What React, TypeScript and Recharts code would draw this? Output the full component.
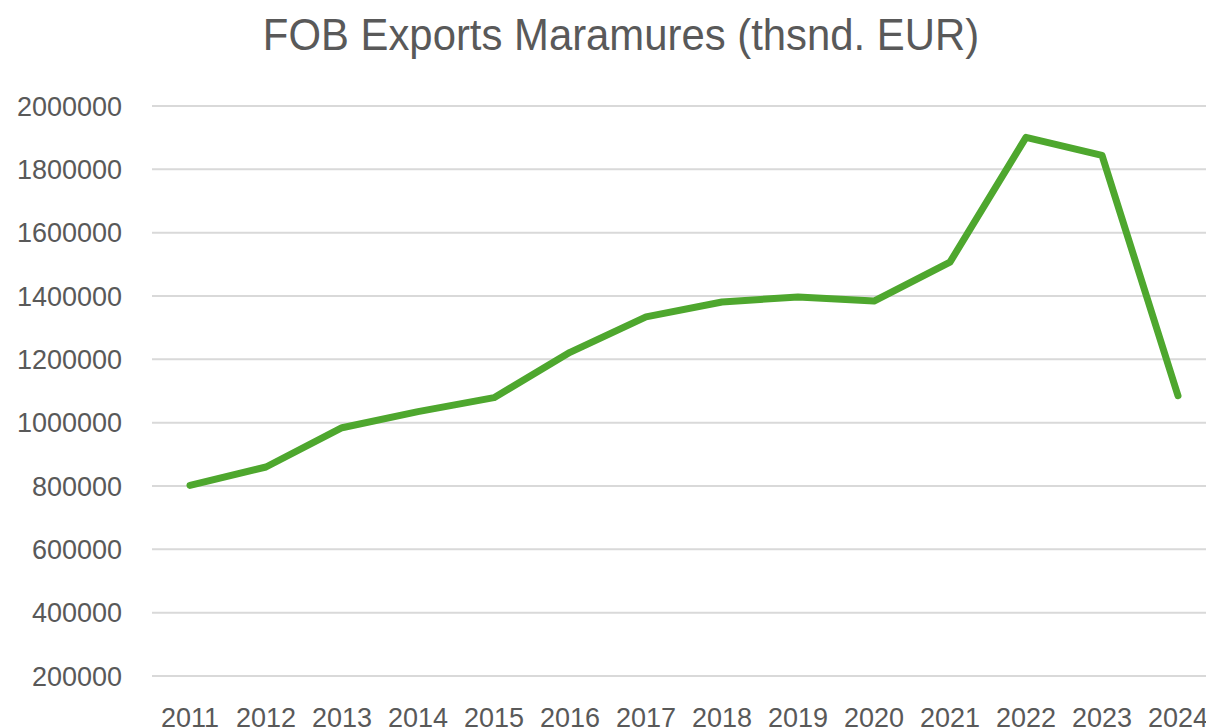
import { CartesianGrid, Line, LineChart, XAxis, YAxis } from "recharts";

const years = ["2011", "2012", "2013", "2014", "2015", "2016", "2017", "2018", "2019", "2020", "2021", "2022", "2023", "2024"];
const exportsFob = [802000, 860000, 984000, 1035000, 1079000, 1222000, 1334000, 1381000, 1397000, 1384000, 1507000, 1901000, 1844000, 1085000];
const yTicks = [200000, 400000, 600000, 800000, 1000000, 1200000, 1400000, 1600000, 1800000, 2000000];

const data = years.map((year, i) => ({ year, value: exportsFob[i] }));

const labelFont = "'Liberation Sans', Arial, sans-serif";

export default function App() {
  return (
    <div style={{ position: "relative", width: 1206, height: 719, background: "#fff" }}>
      <div
        style={{
          position: "absolute",
          left: 0,
          top: 1,
          width: 1226,
          textAlign: "center",
          fontFamily: labelFont,
          fontSize: 45,
          lineHeight: "normal",
          color: "#595959",
          transform: "scaleX(0.93)",
          transformOrigin: "center",
          whiteSpace: "nowrap",
        }}
      >
        FOB Exports Maramures (thsnd. EUR)
      </div>
      <LineChart width={1206} height={719} data={data} margin={{ top: 98, right: 0, bottom: 0, left: 0 }}>
        <CartesianGrid vertical={false} stroke="#d9d9d9" strokeWidth={2} />
        <XAxis
          dataKey="year"
          axisLine={false}
          tickLine={false}
          padding={{ left: 38, right: 36 }}
          height={51}
          tickMargin={26}
          interval={0}
          tick={{ fill: "#595959", fontSize: 27, fontFamily: labelFont }}
        />
        <YAxis
          domain={[200000, 2000000]}
          ticks={yTicks}
          width={144}
          axisLine={false}
          tickLine={false}
          tickMargin={24}
          interval={0}
          tick={{ fill: "#595959", fontSize: 27, fontFamily: labelFont }}
        />
        <Line
          type="linear"
          dataKey="value"
          stroke="#4ea72e"
          strokeWidth={7}
          strokeLinecap="round"
          strokeLinejoin="round"
          dot={false}
          activeDot={false}
          isAnimationActive={false}
        />
      </LineChart>
    </div>
  );
}
